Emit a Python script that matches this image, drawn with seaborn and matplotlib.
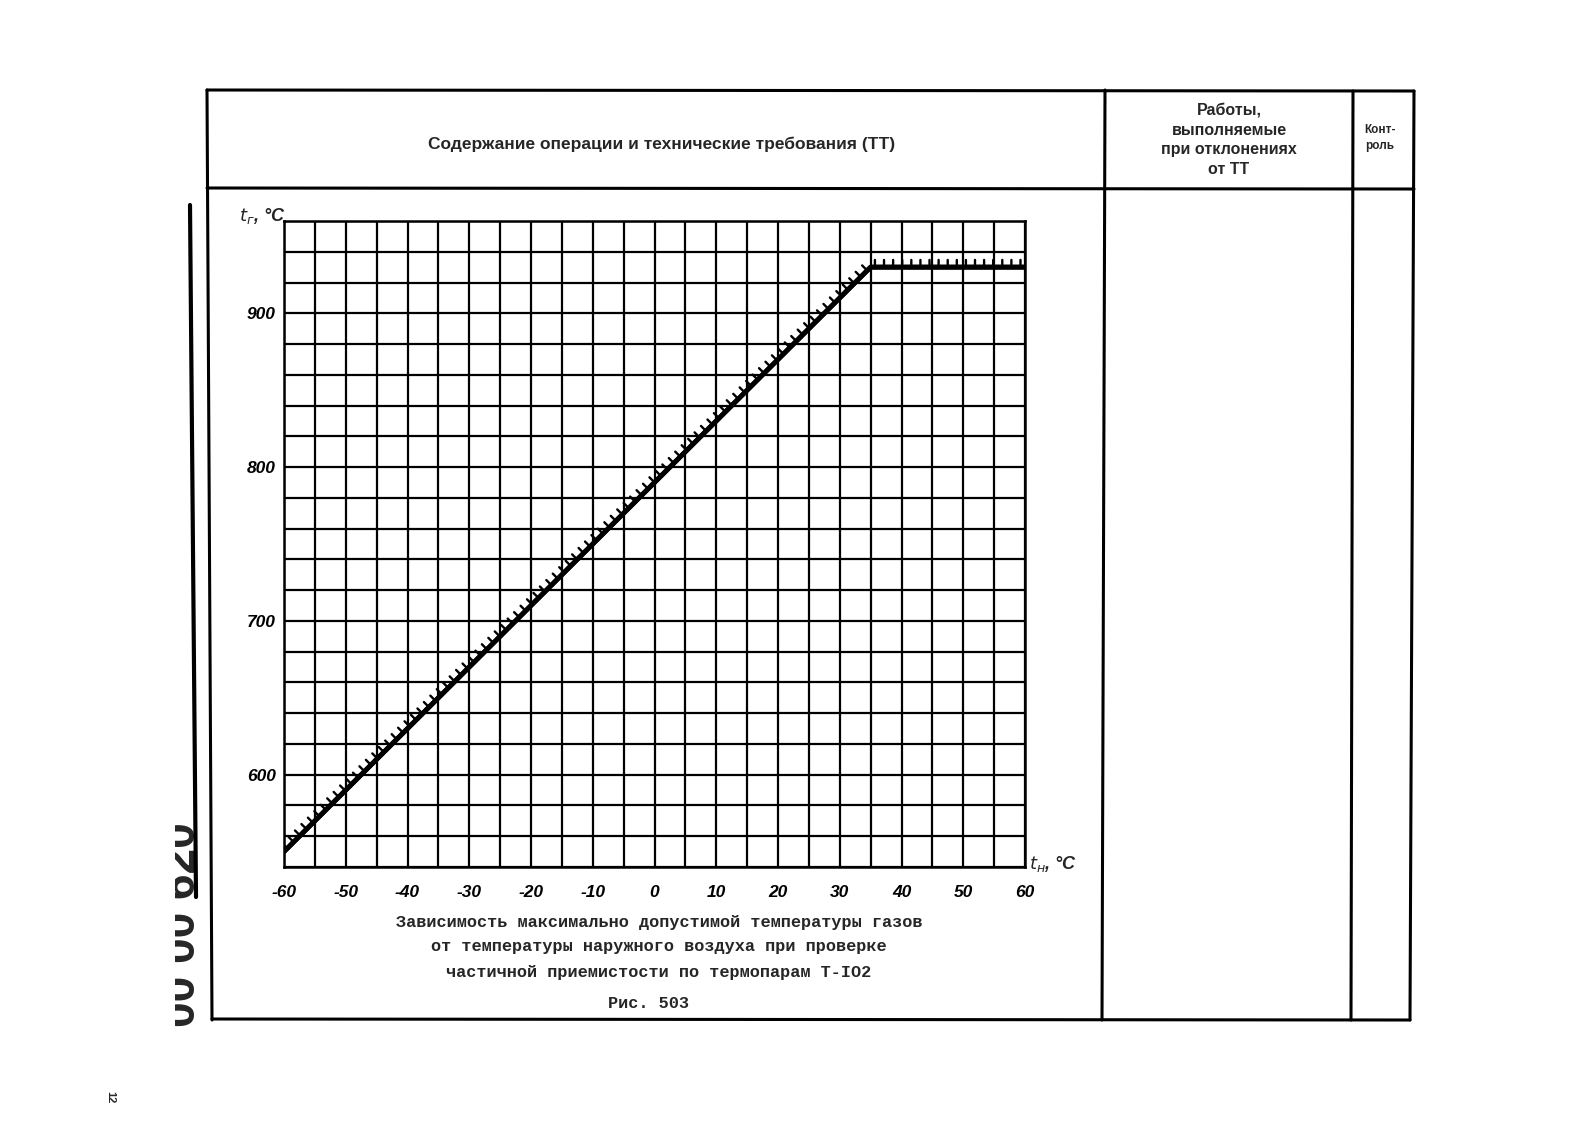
import numpy as np
import pandas as pd

import matplotlib
matplotlib.use('Agg')
import matplotlib.pyplot as plt
import matplotlib.patheffects as pe
from matplotlib.lines import Line2D
from matplotlib.ticker import MultipleLocator
import seaborn as sns

## DATA
# outside air temperature, deg C (break points of the curve)
t_air = [-60, 35, 60]
# max allowed gas temperature, deg C
t_gas = [550, 930, 930]

x_ticks = [-60, -50, -40, -30, -20, -10, 0, 10, 20, 30, 40, 50, 60]
y_ticks = [600, 700, 800, 900]

header_main = 'Содержание операции и технические требования (ТТ)'
header_dev = 'Работы,\nвыполняемые\nпри отклонениях\nот ТТ'
header_ctrl = 'Конт-\nроль'
caption = ['Зависимость максимально допустимой температуры газов',
           'от температуры наружного воздуха при проверке',
           'частичной приемистости по термопарам Т-IO2']
fig_no = 'Рис. 503'

## STYLE
sns.set_style('white')
plt.rcParams['font.family'] = ['Liberation Sans', 'DejaVu Sans']
plt.rcParams['axes.unicode_minus'] = False

W, H = 1577, 1134
fig = plt.figure(figsize=(W / 100, H / 100), dpi=100)


def px(x, y):
    # pixel coords (top-left origin) -> figure fraction
    return x / W, 1 - y / H


def fline(x0, y0, x1, y1, lw=2.2):
    a, b = px(x0, y0)
    c, d = px(x1, y1)
    fig.add_artist(Line2D([a, c], [b, d], color='black', lw=lw,
                          transform=fig.transFigure))


## PAGE FRAME
fline(207, 90, 1414, 91)
fline(207, 90, 212, 1020)
fline(1414, 91, 1410, 1020)
fline(212, 1019, 1410, 1020)
fline(207, 188, 1414, 189)
fline(1105, 90, 1102, 1020)
fline(1353, 91, 1351, 1020)

fig.text(*px(662, 144), header_main, ha='center', va='center',
         fontsize=12.5, fontweight='bold')
fig.text(*px(1229, 140), header_dev, ha='center', va='center',
         fontsize=11.5, fontweight='bold', linespacing=1.4)
fig.text(*px(1380, 138), header_ctrl, ha='center', va='center',
         fontsize=8.5, fontweight='bold', linespacing=1.5)

# side stamp (cut off by the scan edge) and page number
fline(190, 205, 196, 897, lw=3)
ax_st = fig.add_axes([175 / W, 1 - 1030 / H, 25 / W, 210 / H])
ax_st.axis('off')
st = ax_st.text(1.2, 3 / 210, '00 00 620', rotation=90, ha='right',
                va='bottom', fontsize=33, fontweight='bold',
                transform=ax_st.transAxes)
st.set_clip_box(ax_st.bbox)
st.set_clip_on(True)
fig.text(*px(110, 1097), '12', rotation=-90, ha='center', va='center',
         fontsize=8, fontweight='bold')

## CHART
ax = fig.add_axes([284 / W, 1 - 867 / H, 741 / W, 646 / H])
df = pd.DataFrame({'t_air': t_air, 't_gas': t_gas})
sns.lineplot(data=df, x='t_air', y='t_gas', ax=ax, color='black', lw=3.5,
             zorder=5,
             path_effects=[pe.withTickedStroke(angle=90, spacing=6.5,
                                               length=0.8, linewidth=1.7),
                           pe.Normal()])

ax.set_xlim(-60, 60)
ax.set_ylim(540, 960)
ax.set_xticks(x_ticks)
ax.set_yticks(y_ticks)
ax.xaxis.set_minor_locator(MultipleLocator(5))
ax.yaxis.set_minor_locator(MultipleLocator(20))
ax.grid(which='both', color='black', lw=1.6)
ax.set_axisbelow(True)
for s in ax.spines.values():
    s.set_color('black')
    s.set_linewidth(1.8)
ax.tick_params(which='major', direction='out', length=7, width=1.6,
               colors='black', pad=6)
ax.tick_params(which='minor', length=0)
ax.tick_params(axis='y', length=6, pad=0)
for lab in ax.get_xticklabels() + ax.get_yticklabels():
    lab.set_fontstyle('italic')
    lab.set_fontweight('bold')
    lab.set_fontsize(12.5)
ax.set_xlabel('')
ax.set_ylabel('')

fig.text(*px(262, 216), r'$t_{г}$, °C', ha='center', va='center',
         fontsize=13, fontstyle='italic', fontweight='bold')
fig.text(*px(1053, 864), r'$t_{н}$, °C', ha='center', va='center',
         fontsize=13, fontstyle='italic', fontweight='bold')

## CAPTION
for i, line in enumerate(caption):
    fig.text(*px(659, 922 + i * 25), line, ha='center', va='center',
             fontsize=12.2, fontweight='bold',
             family=['Liberation Mono', 'DejaVu Sans Mono'])
fig.text(*px(649, 1004), fig_no, ha='center', va='center', fontsize=12.2,
         fontweight='bold', family=['Liberation Mono', 'DejaVu Sans Mono'])

fig.savefig('out.png', dpi=100)
